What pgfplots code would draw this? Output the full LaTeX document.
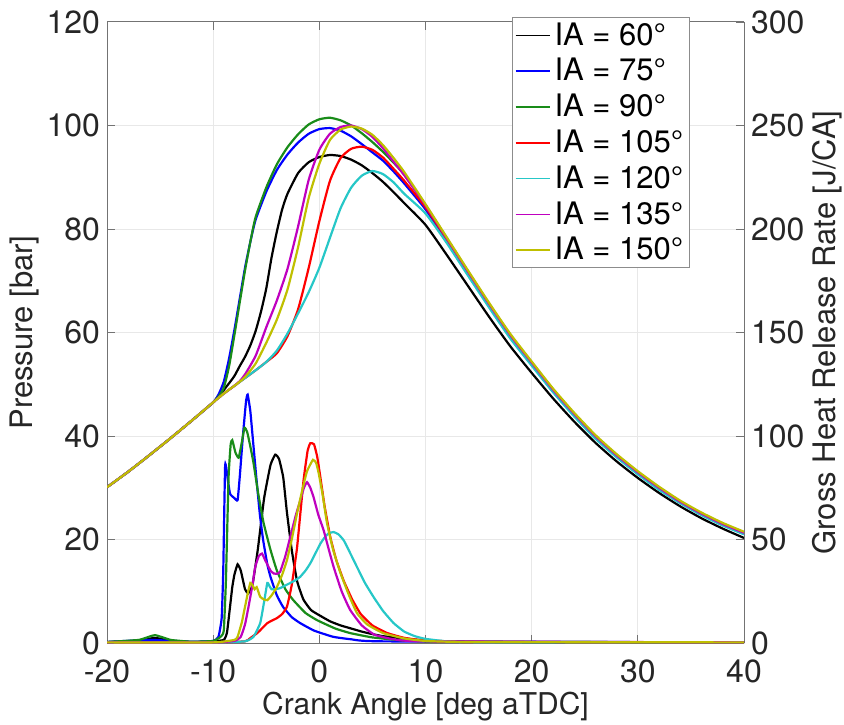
\documentclass[border=0pt]{standalone}
\usepackage{fontspec}
\setmainfont{TeX Gyre Heros}
\usepackage{pgfplots}
\pgfplotsset{compat=1.18}
\definecolor{cK}{rgb}{0,0,0}
\definecolor{cB}{rgb}{0,0,1}
\definecolor{cG}{rgb}{0.1,0.55,0.1}
\definecolor{cR}{rgb}{1,0,0}
\definecolor{cC}{rgb}{0.15,0.78,0.78}
\definecolor{cM}{rgb}{0.75,0,0.75}
\definecolor{cY}{rgb}{0.75,0.75,0}
\definecolor{axc}{rgb}{0.45,0.45,0.45}
\definecolor{txc}{rgb}{0.15,0.15,0.15}
\begin{document}
\begin{tikzpicture}
\pgfplotsset{
  base/.style={
    width=318.5pt, height=310.5pt, scale only axis,
    xmin=-20, xmax=40,
    tick label style={font=\fontsize{16}{16}\selectfont, color=txc},
    xticklabel style={yshift=-5pt},
    /pgf/number format/assume math mode=true,
    tick align=inside, major tick length=4pt,
    axis line style={axc, line width=0.5pt},
    tick style={axc, line width=0.5pt},
  },
  pl/.style={line width=1.1pt, smooth, tension=0.35},
  hl/.style={line width=1.1pt, smooth, tension=0.25},
}
\begin{axis}[base,
  ymin=0, ymax=120, ytick={0,20,...,120},
  xtick={-20,-10,...,40},
  axis y line*=left,
  grid=major, major grid style={black!9, line width=0.5pt},
  xlabel={Crank Angle [deg aTDC]},
  ylabel={Pressure [bar]},
  every axis x label/.style={at={(axis description cs:0.5,-0.103)}, anchor=center, font=\fontsize{15}{15}\selectfont, color=txc},
  every axis y label/.style={at={(axis description cs:-0.129,0.5)}, rotate=90, anchor=center, font=\fontsize{15.5}{15.5}\selectfont, color=txc},
  legend style={at={(0.915,1.008)}, anchor=north east, font=\fontsize{15.5}{15.5}\selectfont,
    draw=black!45, line width=0.5pt, inner xsep=1pt, inner ysep=0.5pt, row sep=1.1pt},
  legend cell align=left,
  legend image post style={line width=0.8pt},
]
\coordinate (SW) at (rel axis cs:0,0);
\coordinate (NE) at (rel axis cs:1,1);
% IA 60
\addplot[pl, cK] coordinates {(-20,30.1)(-18,33.1)(-16,36.3)(-14,39.6)(-12,43.0)(-10,46.5)(-9.5,47.8)(-9,48.9)(-8.5,50.2)(-8,51.6)(-7.5,53.5)(-7,55.3)(-6.5,57.5)(-6,60.3)(-5.5,64)(-5,68.5)(-4.5,74.5)(-4,79.5)(-3.5,83.8)(-3,86.8)(-2,90.8)(-1,92.9)(0,93.9)(1,94.3)(2,94.1)(3,93.4)(4,92.3)(5,90.8)(6,89.1)(7,87.1)(8,85)(10,80.8)(12,75)(14,69)(16,63)(18,57.3)(20,52.2)(22,47.3)(24,42.8)(26,38.7)(28,35.1)(30,31.9)(32,29)(34,26.4)(36,24.1)(38,22.1)(40,20.3)};
\addlegendentry{IA = 60°}
% IA 75
\addplot[pl, cB] coordinates {(-20,30.1)(-18,33.1)(-16,36.3)(-14,39.6)(-12,43.0)(-10,46.5)(-9.5,48.0)(-9,50.5)(-8.5,55)(-8,60.5)(-7.5,66.5)(-7,72.5)(-6.5,77.5)(-6,81.8)(-5,87.2)(-4,91.4)(-3,94.4)(-2,96.7)(-1,98.4)(0,99.3)(1,99.5)(2,99)(3,97.9)(4,96.4)(5,94.8)(6,93.2)(7,91.1)(8,88.8)(10,83.8)(12,77.7)(14,71.3)(16,65)(18,59.1)(20,53.8)(22,48.6)(24,44)(26,39.7)(28,36)(30,32.7)(32,29.7)(34,27.1)(36,24.8)(38,22.8)(40,21.1)};
\addlegendentry{IA = 75°}
% IA 90
\addplot[pl, cG] coordinates {(-20,30.1)(-18,33.1)(-16,36.3)(-14,39.6)(-12,43.0)(-10,46.5)(-9.5,47.6)(-9,49.3)(-8.5,53.5)(-8,59.5)(-7.5,65.8)(-7,72)(-6.5,77.5)(-6,82.3)(-5,88)(-4,92.5)(-3,95.8)(-2,98.3)(-1,100.2)(0,101.2)(1,101.5)(2,101)(3,100)(4,98.5)(5,96.8)(6,94.9)(7,92.8)(8,90.5)(10,84.6)(12,78.2)(14,71.8)(16,65.5)(18,59.5)(20,54.2)(22,49)(24,44.3)(26,40)(28,36.3)(30,33)(32,30)(34,27.3)(36,25)(38,23)(40,21.3)};
\addlegendentry{IA = 90°}
% IA 105
\addplot[pl, cR] coordinates {(-20,30.1)(-18,33.1)(-16,36.3)(-14,39.6)(-12,43.0)(-10,46.5)(-9,48.2)(-8,49.7)(-7,51.2)(-6,52.7)(-5,54.3)(-4,56)(-3,59.3)(-2,64.5)(-1,72.5)(0,81.5)(1,89.3)(2,93.7)(3,95.5)(4,95.9)(5,95.3)(6,93.8)(7,91.6)(8,89.3)(10,84.2)(12,78)(14,71.6)(16,65.3)(18,59.3)(20,54)(22,48.8)(24,44.1)(26,39.8)(28,36.2)(30,32.9)(32,29.9)(34,27.2)(36,24.9)(38,22.9)(40,21.2)};
\addlegendentry{IA = 105°}
% IA 120
\addplot[pl, cC] coordinates {(-20,30.1)(-18,33.1)(-16,36.3)(-14,39.6)(-12,43.0)(-10,46.5)(-9,48.2)(-8,49.7)(-7,51.2)(-6,52.7)(-5,54.3)(-4,56.5)(-3,59.8)(-2,63.7)(-1,67.8)(0,72.5)(1,78.3)(2,84)(3,88)(4,90.3)(5,91.2)(6,90.6)(7,89)(8,86.8)(10,83)(12,77.3)(14,71)(16,64.8)(18,58.8)(20,53.6)(22,48.5)(24,43.8)(26,39.5)(28,35.9)(30,32.6)(32,29.6)(34,27)(36,24.7)(38,22.7)(40,21)};
\addlegendentry{IA = 120°}
% IA 135
\addplot[pl, cM] coordinates {(-20,30.1)(-18,33.1)(-16,36.3)(-14,39.6)(-12,43.0)(-10,46.5)(-9,48.2)(-8,49.7)(-7.5,50.6)(-7,51.9)(-6,55.5)(-5,61)(-4,66.2)(-3,72.3)(-2,80.5)(-1,89.5)(0,95.3)(1,98.4)(2,99.7)(3,100)(4,99.3)(5,97.8)(6,95.6)(7,93)(8,90.4)(10,84.6)(12,78.2)(14,71.8)(16,65.5)(18,59.5)(20,54.2)(22,49)(24,44.3)(26,40)(28,36.3)(30,33)(32,30)(34,27.3)(36,25)(38,23)(40,21.3)};
\addlegendentry{IA = 135°}
% IA 150
\addplot[pl, cY] coordinates {(-20,30.1)(-18,33.1)(-16,36.3)(-14,39.6)(-12,43.0)(-10,46.5)(-9,48.2)(-8,49.7)(-7.5,50.5)(-7,51.4)(-6,54)(-5,58)(-4,62.5)(-3,68.3)(-2,76.5)(-1,86)(0,92.6)(1,97.2)(2,99.2)(3,99.8)(4,99.4)(5,98.2)(6,96.2)(7,93.7)(8,91)(10,84.8)(12,78.4)(14,72)(16,65.7)(18,59.7)(20,54.4)(22,49.2)(24,44.5)(26,40.2)(28,36.5)(30,33.2)(32,30.2)(34,27.5)(36,25.2)(38,23.2)(40,21.5)};
\addlegendentry{IA = 150°}
\end{axis}
\begin{axis}[base,
  ymin=0, ymax=300, ytick={0,50,...,300},
  axis y line*=right, axis x line=none,
  ylabel={Gross Heat Release Rate [J/CA]},
  every axis y label/.style={at={(axis description cs:1.13,0.5)}, rotate=90, anchor=center, font=\fontsize{15.5}{15.5}\selectfont, color=txc},
]
% IA 60
\addplot[hl, cK] coordinates {(-20,0.5)(-17,1)(-15.5,2.5)(-14,1)(-12,0.5)(-10,0.8)(-9,1.5)(-8.7,5)(-8.4,18)(-8.2,27)(-8,33)(-7.7,38)(-7.4,35)(-7,26)(-6.7,24)(-6.3,28)(-5.8,45)(-5.2,70)(-4.6,86)(-4.15,91)(-3.8,89)(-3.4,80)(-3.05,63)(-2.6,45)(-2.1,30)(-1.5,21)(-0.8,16)(-0.2,14)(1,10.5)(2,8.5)(3,7)(4,5.5)(5,4.3)(6,3.3)(7.6,2.4)(10,1.2)(15,0.6)(40,0.3)};
% IA 75
\addplot[hl, cB] coordinates {(-20,0.5)(-16,1.5)(-12,0.6)(-10,1)(-9.5,3)(-9.2,12)(-9.05,35)(-8.87,86)(-8.6,78)(-8.4,72)(-8,70)(-7.7,69)(-7.5,80)(-7.2,100)(-6.9,117)(-6.75,120)(-6.5,112)(-6.2,95)(-5.9,78)(-5.6,62)(-5.3,50)(-4.9,38)(-4.6,32)(-4,23)(-3.4,17.3)(-2.6,12.5)(-1.8,9.6)(-0.5,6)(1.3,3)(3,1.8)(6,0.8)(40,0.3)};
% IA 90
\addplot[hl, cG] coordinates {(-20,0.5)(-17,1.5)(-15.5,3.8)(-14,1.5)(-12,0.6)(-10,1)(-9.3,3)(-9,6)(-8.8,30)(-8.55,80)(-8.35,96)(-8.2,98)(-7.9,92)(-7.6,89.5)(-7.3,97)(-7.05,104)(-6.8,102)(-6.5,95)(-6.2,87)(-5.75,72)(-5.25,58)(-4.6,45)(-4,35)(-3.2,26)(-2.45,20.7)(-1.3,14.5)(-0.2,11)(1.5,7)(2.9,4.8)(5,2.7)(8,1.2)(12,0.6)(40,0.3)};
% IA 105
\addplot[hl, cR] coordinates {(-20,0.3)(-10,0.3)(-7,0.8)(-6.5,2.4)(-5.8,5)(-4.9,9.6)(-4.4,11)(-4,12)(-3.5,14)(-3.05,17.5)(-2.6,28)(-2.1,46)(-1.5,78)(-1.1,93)(-0.85,96.5)(-0.5,96)(-0.2,90)(0.1,80)(0.5,66)(1.04,51)(1.6,40)(2.3,30)(3.1,21)(3.9,14)(5,8.5)(6.4,4.8)(8,2.5)(10,1.2)(14,0.5)(40,0.3)};
% IA 120
\addplot[hl, cC] coordinates {(-20,0.3)(-10,0.3)(-7,0.8)(-6.2,3)(-5.57,9.6)(-5.2,20)(-4.9,29)(-4.7,27.5)(-4.5,26)(-4.1,26)(-3.7,26.5)(-3.2,27.8)(-2.74,29)(-2.2,30.5)(-1.8,32)(-1.3,35)(-0.85,38.5)(-0.4,43)(0.1,48)(0.5,51)(0.88,53)(1.35,53.6)(1.8,52.5)(2.3,49.6)(2.9,43.5)(3.55,36.7)(4.3,29)(5.1,22.3)(6,15.5)(7,9.6)(8,5.5)(9,3.3)(10,2)(12,0.8)(15,0.4)(40,0.3)};
% IA 135
\addplot[hl, cM] coordinates {(-20,0.3)(-10,0.3)(-8,1)(-7.4,3)(-7,9)(-6.67,17.5)(-6.3,28)(-6.04,36.7)(-5.7,42)(-5.4,43.2)(-5.1,40)(-4.9,38)(-4.6,35)(-4.3,33.6)(-4,33.5)(-3.7,34.3)(-3.2,42)(-2.74,51.2)(-2.2,62)(-1.8,68.8)(-1.45,75)(-1.16,77.7)(-0.85,75)(-0.54,70.4)(-0.1,62)(0.41,54.4)(0.9,45)(1.35,36.7)(2.1,25)(2.9,16)(4,8.5)(5.2,4)(7,1.8)(10,0.8)(40,0.3)};
% IA 150
\addplot[hl, cY] coordinates {(-20,0.3)(-10,0.3)(-8,1.5)(-7.7,3)(-7.3,10)(-7,17.5)(-6.7,25)(-6.5,29)(-6.3,28)(-6.1,26)(-5.9,27)(-5.57,22.3)(-5.2,21)(-4.9,20.7)(-4.5,23)(-4,27)(-3.5,33)(-3.05,40)(-2.6,50)(-2.1,62.6)(-1.6,74)(-1.16,83)(-0.6,88.5)(-0.3,87)(-0.06,82)(0.3,72)(0.72,58)(1.3,45)(2,33.7)(2.8,23)(3.55,14.4)(4.5,9)(6,4.8)(8,2.2)(10,1)(14,0.5)(40,0.3)};
\end{axis}
\pgfresetboundingbox
\path ([xshift=-53.5pt,yshift=-40.5pt]SW) rectangle ([xshift=50pt,yshift=11pt]NE);
\end{tikzpicture}
\end{document}
